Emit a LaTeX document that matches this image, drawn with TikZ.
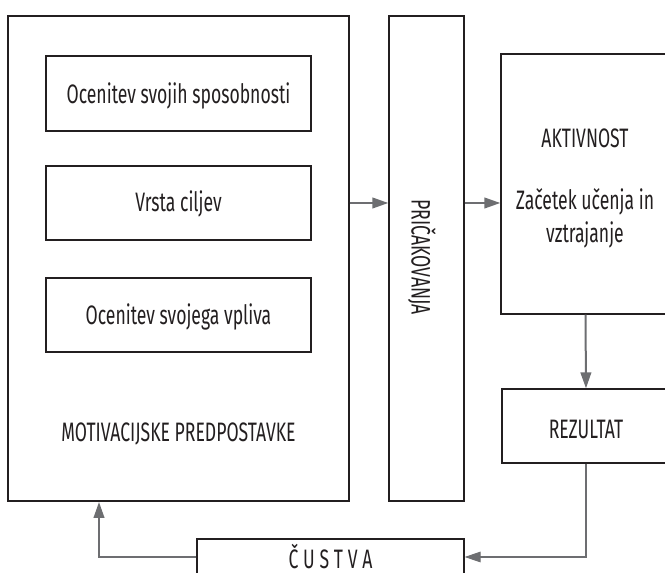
\documentclass[tikz,border=0pt]{standalone}
\usepackage{fontspec}
\setmainfont{Fira Sans}
\usetikzlibrary{arrows.meta,calc}
\definecolor{ink}{HTML}{231F20}
\definecolor{arrgray}{HTML}{6D6E71}
\newcommand{\cnd}[1]{\scalebox{0.66}[1]{#1}}
\newfontfamily\spacedfont[LetterSpace=28]{Fira Sans}
\tikzset{
  box/.style={draw=ink,line width=1pt,fill=white,inner sep=0pt},
  lbl/.style={inner sep=0pt,font=\fontsize{20}{24}\selectfont,text=ink},
  arr/.style={draw=arrgray,line width=1.5pt,-{Triangle[length=12pt,width=8pt]}},
  thinarr/.style={draw=arrgray,line width=0.8pt,-{Triangle[length=12pt,width=8pt]}}
}
\begin{document}
\begin{tikzpicture}[x=0.75pt,y=-0.75pt]
\useasboundingbox (0,0) rectangle (665,573);
\clip (0,0) rectangle (665,573);
% left big box
\node[box,minimum width=255.75pt,minimum height=363.75pt] (outer) at (178.5,258.5) {};
\node[box,minimum width=198.75pt,minimum height=56.25pt] (b1) at (178.5,93.5) {};
\node[lbl] (t1) at (178.5,96) {\cnd{Ocenitev svojih sposobnosti}};
\node[box,minimum width=198.75pt,minimum height=55.5pt] (b2) at (178.5,203) {};
\node[lbl] (t2) at (178.5,204) {\cnd{Vrsta ciljev}};
\node[box,minimum width=198.75pt,minimum height=55.5pt] (b3) at (178.5,315) {};
\node[lbl] (t3) at (178.5,317) {\cnd{Ocenitev svojega vpliva}};
\node[lbl] (mot) at (178.5,434) {\cnd{MOTIVACIJSKE PREDPOSTAVKE}};
% expectations
\node[box,minimum width=56.25pt,minimum height=363.75pt] (pric) at (426.5,258.5) {};
\node[lbl,rotate=-90] (prict) at (422,257) {\cnd{PRIČAKOVANJA}};
% activity
\node[box,minimum width=126.75pt,minimum height=195pt] (akt) at (585.5,184) {};
\node[lbl] (akt1) at (585,138) {\cnd{AKTIVNOST}};
\node[lbl] (akt2) at (585,202) {\cnd{Začetek učenja in}};
\node[lbl] (akt3) at (585,235) {\cnd{vztrajanje}};
% result
\node[box,minimum width=126pt,minimum height=55.5pt] (rez) at (586,426) {};
\node[lbl] (rezt) at (586,429) {\cnd{REZULTAT}};
% emotions
\node[box,minimum width=200.25pt,minimum height=45.75pt] (cust) at (330.5,569.5) {};
\node[lbl] (custt) at (330.5,557) {\cnd{\spacedfont\fontsize{20}{24}\selectfont ČUSTVA}};
\coordinate (fb) at (99,502);
% connectors
\draw[arr] (b2.center -| outer.east) -- (b2.center -| pric.west);
\draw[arr] (b2.center -| pric.east) -- (b2.center -| akt.west);
\draw[arr] (akt.south) -- (rez.north);
\draw[thinarr] (rez.south) |- (custt -| cust.east);
\draw[arr] (custt -| cust.west) -| (fb);
\end{tikzpicture}
\end{document}
